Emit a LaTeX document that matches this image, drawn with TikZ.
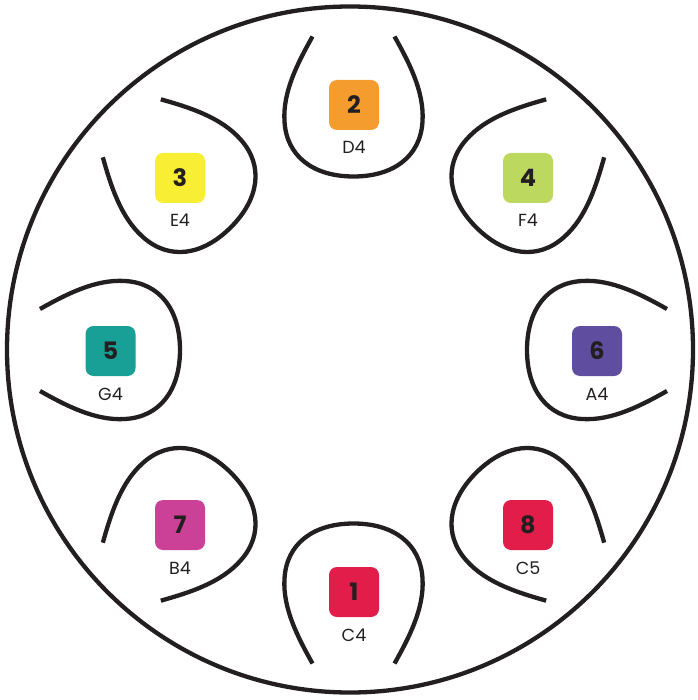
\documentclass[tikz,border=0pt]{standalone}
\usepackage{fontspec}
\setmainfont{Poppins}
\usetikzlibrary{calc}
\definecolor{ink}{HTML}{231F20}
\definecolor{cone}{HTML}{E31D4A}
\definecolor{ctwo}{HTML}{F59C2F}
\definecolor{cthree}{HTML}{F8EE34}
\definecolor{cfour}{HTML}{BDD85E}
\definecolor{cfive}{HTML}{18A096}
\definecolor{csix}{HTML}{5F4EA0}
\definecolor{cseven}{HTML}{CB4197}
\definecolor{ceight}{HTML}{E31D4A}
\begin{document}
\begin{tikzpicture}[x=1pt,y=1pt,
  tongue/.style={line width=4.3pt, draw=ink},
  keybox/.style={rounded corners=8pt, minimum size=50pt, inner sep=0pt,
    font=\fontsize{24}{24}\selectfont\bfseries, text=ink},
  notelabel/.style={font=\fontsize{17.5}{17.5}\selectfont, text=ink, inner sep=0pt, anchor=base},
  tonguepic/.pic={\draw[tongue] (-41,70) .. controls (-55,45) and (-71,15) .. (-69,-15)
     .. controls (-67,-50) and (-40,-70) .. (0,-70)
     .. controls (40,-70) and (67,-50) .. (69,-15)
     .. controls (71,15) and (55,45) .. (41,70);}]
\useasboundingbox (0,0) rectangle (697,-700);
\coordinate (rim) at (350,-349.5);
\coordinate (C) at (353.5,-350);
\draw[line width=4.3pt, draw=ink] (rim) circle (343);
\foreach \a in {0,45,...,315}{
  \pgfmathsetmacro{\rot}{\a-90}
  \path (C) ++(\a:243.5) pic[rotate=\rot] {tonguepic};
}
\node[keybox, fill=cone]   (k1) at (354,-592) {1};
\node[keybox, fill=ctwo]   (k2) at (354,-105) {2};
\node[keybox, fill=cthree] (k3) at (180,-178) {3};
\node[keybox, fill=cfour]  (k4) at (528,-178) {4};
\node[keybox, fill=cfive]  (k5) at (110.5,-351) {5};
\node[keybox, fill=csix]   (k6) at (597,-351) {6};
\node[keybox, fill=cseven] (k7) at (180,-525) {7};
\node[keybox, fill=ceight] (k8) at (528,-525) {8};
\node[notelabel] (n1) at ($(k1.center)+(0,-49)$) {C4};
\node[notelabel] (n2) at ($(k2.center)+(0,-49)$) {D4};
\node[notelabel] (n3) at ($(k3.center)+(0,-49)$) {E4};
\node[notelabel] (n4) at ($(k4.center)+(0,-49)$) {F4};
\node[notelabel] (n5) at ($(k5.center)+(0,-49)$) {G4};
\node[notelabel] (n6) at ($(k6.center)+(0,-49)$) {A4};
\node[notelabel] (n7) at ($(k7.center)+(0,-49)$) {B4};
\node[notelabel] (n8) at ($(k8.center)+(0,-49)$) {C5};
\end{tikzpicture}
\end{document}
